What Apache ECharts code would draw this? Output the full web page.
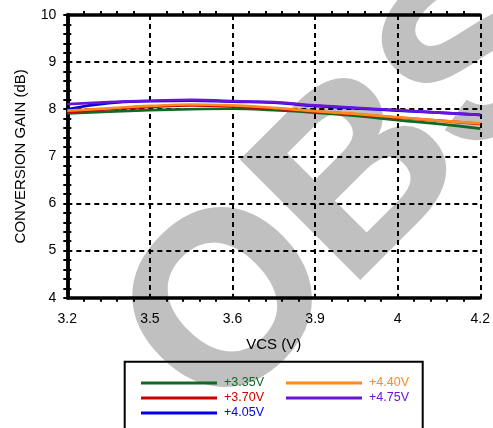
<!DOCTYPE html>
<html><head><meta charset="utf-8">
<script src="https://cdn.jsdelivr.net/npm/echarts@6/dist/echarts.min.js"></script>
<style>html,body{margin:0;padding:0;background:#fff}#c{width:493px;height:428px}</style>
</head><body><div id="c"></div>
<script>
// x positions are tick-slot units: 0..5 correspond to the printed labels below
const xTickLabels = ['3.2', '3.5', '3.6', '3.9', '4', '4.2'];
const xPos = [0, 0.5, 1, 1.5, 2, 2.5, 3, 3.5, 4, 4.5, 5];
const gain335 = [7.91, 7.95, 7.98, 8.00, 8.01, 7.98, 7.93, 7.86, 7.77, 7.69, 7.59];
const gain370 = [7.94, 8.00, 8.05, 8.08, 8.06, 8.01, 7.95, 7.89, 7.82, 7.76, 7.69];
const gain405 = [8.00, 8.13, 8.17, 8.18, 8.16, 8.14, 8.07, 8.02, 7.97, 7.93, 7.88];
const gain440 = [7.97, 8.02, 8.07, 8.10, 8.08, 8.03, 7.96, 7.90, 7.83, 7.76, 7.70];
const gain475 = [8.11, 8.15, 8.18, 8.20, 8.17, 8.15, 8.08, 8.03, 7.98, 7.93, 7.88];
const seriesNames = ['+3.35V', '+3.70V', '+4.05V', '+4.40V', '+4.75V'];
const seriesColors = ['#0f6a23', '#cc0000', '#0000e6', '#ff8a1e', '#6a14d8'];
const seriesData = [gain335, gain370, gain405, gain440, gain475];

const font = 'Liberation Sans, Arial, Helvetica, sans-serif';

// watermark placement: anchor the bottom-left corner of the "B" stem
const wmSize = 243, wmAngle = 45 * Math.PI / 180, wmFont = 'bold ' + wmSize + 'px ' + font;
const mc = document.createElement('canvas').getContext('2d');
mc.font = wmFont; mc.textBaseline = 'middle';
const mB = mc.measureText('B');
const uB = mc.measureText('O').width - mB.actualBoundingBoxLeft;
const vB = mB.actualBoundingBoxDescent;
const cA = Math.cos(wmAngle), sA = Math.sin(wmAngle);
const anchor = [360, 278];
const wmX = anchor[0] - (uB * cA + vB * sA);
const wmY = anchor[1] - (-uB * sA + vB * cA);

const chart = echarts.init(document.getElementById('c'));
const series = seriesNames.map((n, i) => ({
  name: n, type: 'line', smooth: true, showSymbol: false, symbol: 'none',
  xAxisIndex: 0, yAxisIndex: 0,
  color: seriesColors[i],
  lineStyle: { width: 2.7, color: seriesColors[i] },
  data: xPos.map((x, j) => [x, seriesData[i][j]]),
  z: 3 + i
}));
const leg = (names, left) => ({
  orient: 'vertical', left: left, top: 375.5, padding: 0, itemGap: 0,
  itemWidth: 76, itemHeight: 3, icon: 'rect',
  data: names.map(n => ({ name: n, textStyle: { color: seriesColors[seriesNames.indexOf(n)] } })),
  textStyle: { fontFamily: font, fontSize: 12.5, lineHeight: 15, padding: [0, 0, 0, 2] },
  selectedMode: false
});
const gridLine = { show: true, lineStyle: { color: '#000', width: 2, type: [5, 4] } };
const tick = { show: true, inside: true, length: 4, lineStyle: { color: '#000', width: 2 } };
const minor = { show: true, splitNumber: 5, length: -4, lineStyle: { color: '#000', width: 2 } };
const border = { show: true, lineStyle: { color: '#000', width: 3.5 } };
chart.setOption({
  animation: false,
  backgroundColor: '#fff',
  grid: { left: 67.3, right: 9.7, top: 15, bottom: 130.3 },
  graphic: [
    { type: 'text', x: wmX, y: wmY, rotation: wmAngle, z: -100, silent: true,
      style: { text: 'OBSOLETE', x: 0, y: 0, fill: '#c0c0c0', stroke: '#c0c0c0', lineWidth: 3,
               font: wmFont, textAlign: 'left', textVerticalAlign: 'middle' } },
    { type: 'rect', shape: { x: 124.7, y: 361.7, width: 298, height: 80 }, z: 10, silent: true,
      style: { fill: 'none', stroke: '#000', lineWidth: 2 } }
  ],
  legend: [leg(['+3.35V', '+3.70V', '+4.05V'], 141), leg(['+4.40V', '+4.75V'], 286)],
  xAxis: [
    { type: 'value', min: 0, max: 5, interval: 1, position: 'bottom',
      name: 'VCS (V)', nameLocation: 'middle', nameGap: 40,
      nameTextStyle: { fontFamily: font, fontSize: 15, color: '#000' },
      axisLine: border, axisTick: tick, minorTick: minor,
      axisLabel: { fontFamily: font, fontSize: 14, color: '#000', margin: 14,
        formatter: v => xTickLabels[Math.round(v)] },
      splitLine: gridLine },
    { type: 'value', min: 0, max: 5, interval: 1, position: 'top',
      axisLine: border, axisTick: tick, minorTick: minor,
      axisLabel: { show: false }, splitLine: { show: false } }
  ],
  yAxis: [
    { type: 'value', min: 4, max: 10, interval: 1, position: 'left',
      name: 'CONVERSION GAIN (dB)', nameLocation: 'middle', nameGap: 39,
      nameTextStyle: { fontFamily: font, fontSize: 15, color: '#000' },
      axisLine: border, axisTick: tick, minorTick: minor,
      axisLabel: { fontFamily: font, fontSize: 14, color: '#000', margin: 11 },
      splitLine: gridLine },
    { type: 'value', min: 4, max: 10, interval: 1, position: 'right',
      axisLine: border, axisTick: tick, minorTick: minor,
      axisLabel: { show: false }, splitLine: { show: false } }
  ],
  series: series
});
</script></body></html>
